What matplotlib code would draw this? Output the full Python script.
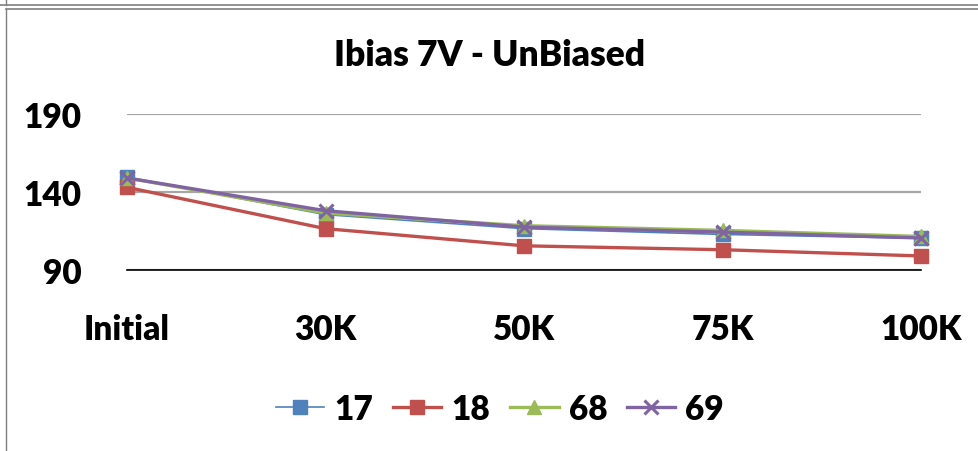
import matplotlib
matplotlib.use("Agg")
import matplotlib.pyplot as plt
from matplotlib.lines import Line2D

categories = ["Initial", "30K", "50K", "75K", "100K"]
series_names = ["17", "18", "68", "69"]
s17 = [149.5, 125.5, 116.5, 112.8, 110.3]
s18 = [143.0, 116.5, 105.5, 103.0, 99.0]
s68 = [149.0, 126.5, 118.4, 115.4, 111.5]
s69 = [149.0, 128.0, 117.5, 114.3, 110.5]
yticks = [90, 140, 190]

colors = ["#4F81BD", "#C0504D", "#9BBB59", "#8064A2"]
markers = ["s", "s", "^", "x"]
widths = [1.2, 2.4, 2.4, 2.4]

plt.rcParams['font.family'] = ['Lato', 'DejaVu Sans']
WEIGHT = 'heavy'

W, H = 979, 452
fig = plt.figure(figsize=(W / 100, H / 100), dpi=100)
ax = fig.add_axes([127 / W, (H - 271) / H, (921 - 127) / W, (271 - 115) / H])

x = list(range(len(categories)))
for vals, c, m, lw, name in zip([s17, s18, s68, s69], colors, markers, widths, series_names):
    ms = 9.5 if m != "x" else 10
    ax.plot(x, vals, color=c, lw=lw, marker=m, ms=ms, mec=c, mfc=c,
            mew=2.2 if m == "x" else 1, label=name, clip_on=False, zorder=3)

ax.set_xlim(0, len(categories) - 1)
ax.set_ylim(90, 190)
ax.set_yticks(yticks)
ax.set_xticks(x)
ax.set_xticklabels(categories)
ax.grid(axis='y', color='#a6a6a6', lw=1.6)
ax.set_axisbelow(True)
for s in ['top', 'right', 'left']:
    ax.spines[s].set_visible(False)
ax.spines['bottom'].set_color('black')
ax.spines['bottom'].set_linewidth(1.2)
ax.spines['bottom'].set_zorder(2)
ax.tick_params(axis='both', length=0, labelsize=24)
ax.tick_params(axis='y', pad=33)
ax.tick_params(axis='x', pad=31)
for t in ax.get_xticklabels() + ax.get_yticklabels():
    t.set_fontweight(WEIGHT)

fig.text(490 / W, 1 - 55 / H, "Ibias 7V - UnBiased", ha='center', va='center',
         fontsize=25.5, fontweight=WEIGHT)

leg = fig.legend(loc='center', bbox_to_anchor=(500 / W, 1 - 410 / H), ncol=4,
                 frameon=False, handlelength=1.45, handletextpad=0.3,
                 columnspacing=0.6, prop={'weight': WEIGHT, 'size': 24})

# frame lines
fig.add_artist(Line2D([0, 1], [1 - 6 / H, 1 - 6 / H], color='#7f7f7f', lw=1.2, transform=fig.transFigure))
fig.add_artist(Line2D([6 / W, 6 / W], [1, 1 - 6 / H], color='#7f7f7f', lw=1.0, transform=fig.transFigure))
fig.add_artist(Line2D([6 / W, 1], [1 - 10 / H, 1 - 10 / H], color='#7f7f7f', lw=1.2, transform=fig.transFigure))
fig.add_artist(Line2D([6 / W, 6 / W], [0, 1 - 10 / H], color='#7f7f7f', lw=1.0, transform=fig.transFigure))

fig.savefig("out.png", dpi=100)
